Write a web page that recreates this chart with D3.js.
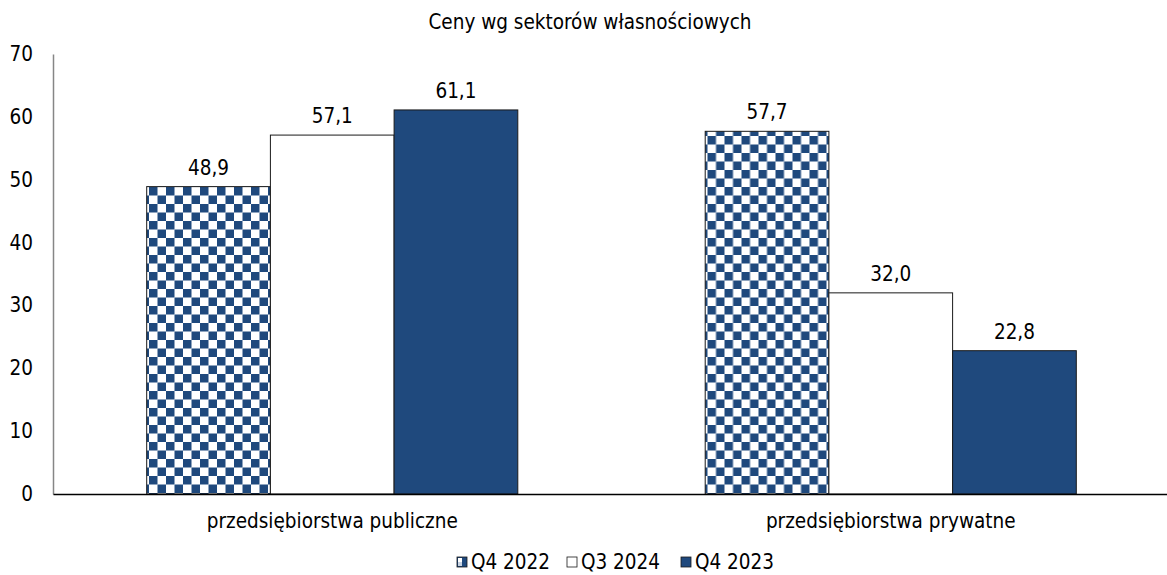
<!DOCTYPE html>
<html>
<head>
<meta charset="utf-8">
<script src="https://cdn.jsdelivr.net/npm/d3@7"></script>
<style>
  body { margin: 0; background: #fff; }
  text { font-family: "DejaVu Sans Condensed", "DejaVu Sans", sans-serif; fill: #000; }
</style>
</head>
<body>
<div id="container"></div>
<script>
const width = 1167;
const height = 575;
const fontSize = 20.5;

const title = "Ceny wg sektorów własnościowych";
const categories = ["przedsiębiorstwa publiczne", "przedsiębiorstwa prywatne"];
const seriesNames = ["Q4 2022", "Q3 2024", "Q4 2023"];
const q4_2022 = [48.9, 57.7];
const q3_2024 = [57.1, 32.0];
const q4_2023 = [61.1, 22.8];
const yTicks = [0, 10, 20, 30, 40, 50, 60, 70];

const seriesValues = [q4_2022, q3_2024, q4_2023];
const blue = "#1f497d";
const fills = ["url(#checker)", "#ffffff", blue];
const legendFills = ["url(#checkerSmall)", "#ffffff", blue];

const viz = d3.select("#container").append("svg").attr("width", width).attr("height", height);

// patterns
const defs = viz.append("defs");
const pat = defs.append("pattern").attr("id", "checker").attr("patternUnits", "userSpaceOnUse")
  .attr("width", 17).attr("height", 17).attr("x", 147).attr("y", 0);
pat.append("rect").attr("width", 17).attr("height", 17).attr("fill", "#fff");
pat.append("rect").attr("width", 8.5).attr("height", 8.5).attr("fill", blue);
pat.append("rect").attr("x", 8.5).attr("y", 8.5).attr("width", 8.5).attr("height", 8.5).attr("fill", blue);

const pat2 = defs.append("pattern").attr("id", "checkerSmall").attr("patternUnits", "objectBoundingBox")
  .attr("width", 1).attr("height", 1);
pat2.append("rect").attr("width", 10).attr("height", 10).attr("fill", blue);
pat2.append("rect").attr("x", 1).attr("y", 1).attr("width", 4).attr("height", 4).attr("fill", "#fff");
pat2.append("rect").attr("x", 1).attr("y", 5).attr("width", 4).attr("height", 4).attr("fill", "#c8d3e2");

const xScale = d3.scaleBand().domain(categories).range([53, 1170]).padding(0);
const xInner = d3.scaleBand().domain(d3.range(seriesNames.length)).range([0, xScale.bandwidth()])
  .paddingInner(0).paddingOuter(0.7575);
const yScale = d3.scaleLinear().domain([0, 70]).range([494, 54]);

// title
viz.append("text").text(title).attr("x", 590).attr("y", 29)
  .attr("text-anchor", "middle").attr("font-size", fontSize);

// y axis
const yAxisGroup = viz.append("g").attr("transform", "translate(53,0)")
  .call(d3.axisLeft(yScale).tickValues(yTicks).tickSize(0).tickPadding(20).tickFormat(d3.format("d")));
yAxisGroup.select(".domain").attr("stroke", "#868686").attr("stroke-width", 1.5);
yAxisGroup.selectAll("text").attr("font-size", fontSize).attr("font-family", "DejaVu Sans Condensed, DejaVu Sans, sans-serif");

// bars
const groups = viz.selectAll(".group").data(categories).enter().append("g")
  .attr("class", "group").attr("transform", d => `translate(${xScale(d)},0)`);

seriesNames.forEach((name, si) => {
  groups.append("rect")
    .attr("x", (d, i) => xInner(si))
    .attr("y", (d, i) => yScale(seriesValues[si][i]))
    .attr("width", xInner.bandwidth())
    .attr("height", (d, i) => yScale(0) - yScale(seriesValues[si][i]))
    .attr("fill", fills[si])
    .attr("stroke", "#1a1a1a").attr("stroke-width", 1);
  groups.append("text")
    .text((d, i) => d3.format(".1f")(seriesValues[si][i]).replace(".", ","))
    .attr("x", xInner(si) + xInner.bandwidth() / 2)
    .attr("y", (d, i) => yScale(seriesValues[si][i]) - 12)
    .attr("text-anchor", "middle").attr("font-size", fontSize);
});

// x axis
const xAxisGroup = viz.append("g").attr("transform", "translate(0,494)")
  .call(d3.axisBottom(xScale).tickSize(0).tickPadding(19));
xAxisGroup.select(".domain").attr("stroke", "#000").attr("stroke-width", 1.5);
xAxisGroup.selectAll("text").attr("font-size", fontSize).attr("font-family", "DejaVu Sans Condensed, DejaVu Sans, sans-serif");

// legend
const legendX = [457, 567, 681];
const legend = viz.selectAll(".legend").data(seriesNames).enter().append("g")
  .attr("class", "legend").attr("transform", (d, i) => `translate(${legendX[i]},557)`);
legend.append("rect").attr("width", 10).attr("height", 10)
  .attr("fill", (d, i) => legendFills[i]).attr("stroke", "#1a1a1a").attr("stroke-width", 0.8);
legend.append("text").text(d => d).attr("x", 14).attr("y", 12).attr("font-size", fontSize);
</script>
</body>
</html>
